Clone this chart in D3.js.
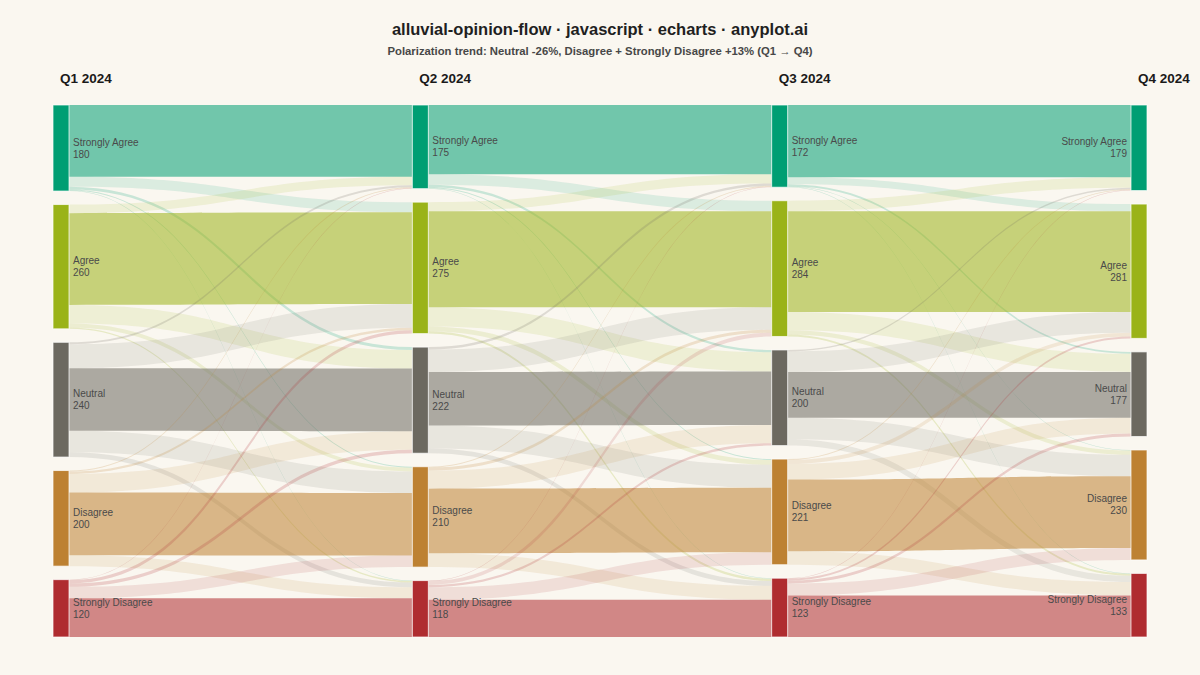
<!DOCTYPE html>
<html>
<head>
<meta charset="utf-8">
<script src="https://cdn.jsdelivr.net/npm/d3@7"></script>
<style>
  html, body { margin: 0; padding: 0; background: #FAF7F0; }
  svg { display: block; }
</style>
</head>
<body>
<div id="chart"></div>
<script>
// ---------------- data ----------------
const quarters = ["Q1 2024", "Q2 2024", "Q3 2024", "Q4 2024"];
const opinions = ["Strongly Agree", "Agree", "Neutral", "Disagree", "Strongly Disagree"];
const nodeColors = ["#009E73", "#9AB318", "#6C6960", "#BD8132", "#AF2C30"];

// rows = source opinion, columns = target opinion
const flowsQ1Q2 = [
  [150, 21, 6, 2, 1],
  [18, 192, 39, 8, 3],
  [4, 50, 131, 45, 10],
  [2, 5, 39, 131, 23],
  [1, 7, 7, 24, 81]
];
const flowsQ2Q3 = [
  [145, 22, 5, 2, 1],
  [19, 201, 40, 10, 5],
  [5, 47, 112, 48, 10],
  [2, 6, 38, 135, 29],
  [1, 8, 5, 26, 78]
];
const flowsQ3Q4 = [
  [151, 15, 4, 1, 1],
  [22, 211, 38, 9, 4],
  [3, 43, 96, 45, 13],
  [2, 8, 33, 150, 28],
  [1, 4, 6, 25, 87]
];
const titleText = "alluvial-opinion-flow · javascript · echarts · anyplot.ai";
const subtitleText = "Polarization trend: Neutral -26%, Disagree + Strongly Disagree +13% (Q1 → Q4)";

// ---------------- layout ----------------
const W = 1200, H = 675;
const nodeW = 16, nodeGap = 13.5;
const topY = 105, bottomY = 637;
const transitions = [flowsQ1Q2, flowsQ2Q3, flowsQ3Q4];

const colValues = quarters.map((q, c) => {
  if (c < transitions.length) return transitions[c].map(r => d3.sum(r));
  const m = transitions[c - 1];
  return opinions.map((o, j) => d3.sum(m, r => r[j]));
});
const colTotal = d3.max(colValues, v => d3.sum(v));

const x = d3.scalePoint().domain(quarters).range([53, 1131]);
const ky = d3.scaleLinear().domain([0, colTotal])
  .range([0, (bottomY - topY) - (opinions.length - 1) * nodeGap]);

const nodes = [];
quarters.forEach((q, c) => {
  let y = topY;
  opinions.forEach((o, i) => {
    const v = colValues[c][i];
    const h = ky(v);
    nodes.push({ col: c, idx: i, name: o, value: v, x: x(q), y0: y, y1: y + h, color: nodeColors[i] });
    y += h + nodeGap;
  });
});
const nodeAt = (c, i) => nodes.find(n => n.col === c && n.idx === i);

const links = [];
transitions.forEach((m, c) => {
  const outOff = opinions.map((o, i) => nodeAt(c, i).y0);
  const inOff = opinions.map((o, j) => nodeAt(c + 1, j).y0);
  const tmp = [];
  m.forEach((row, i) => row.forEach((v, j) => tmp.push({ c, i, j, v })));
  tmp.sort((a, b) => a.i - b.i || a.j - b.j).forEach(l => { l.sy = outOff[l.i]; outOff[l.i] += ky(l.v); });
  tmp.sort((a, b) => a.j - b.j || a.i - b.i).forEach(l => { l.ty = inOff[l.j]; inOff[l.j] += ky(l.v); });
  tmp.sort((a, b) => a.i - b.i || a.j - b.j);
  tmp.forEach(l => links.push(l));
});

// ---------------- draw ----------------
const svg = d3.select("#chart").append("svg").attr("width", W).attr("height", H);
svg.append("rect").attr("width", W).attr("height", H).attr("fill", "#FAF7F0");

const font = "'Liberation Sans', Arial, Helvetica, sans-serif";

svg.append("text").attr("x", W / 2).attr("y", 35).attr("text-anchor", "middle")
  .attr("font-family", font).attr("font-size", 16.5).attr("font-weight", "bold")
  .attr("fill", "#1f1f1f").text(titleText);
svg.append("text").attr("x", W / 2).attr("y", 55).attr("text-anchor", "middle")
  .attr("font-family", font).attr("font-size", 11.3).attr("font-weight", "bold")
  .attr("fill", "#474747").text(subtitleText);

svg.selectAll("text.hdr").data(quarters).join("text").attr("class", "hdr")
  .attr("x", q => x(q) + nodeW / 2 - 1).attr("y", 83)
  .attr("font-family", font).attr("font-size", 13.5).attr("font-weight", "bold")
  .attr("fill", "#1a1a1a").text(q => q);

function linkPath(l) {
  const x0 = x(quarters[l.c]) + nodeW, x1 = x(quarters[l.c + 1]);
  const xm = (x0 + x1) / 2, w = ky(l.v);
  return `M${x0},${l.sy}C${xm},${l.sy} ${xm},${l.ty} ${x1},${l.ty}` +
         `L${x1},${l.ty + w}C${xm},${l.ty + w} ${xm},${l.sy + w} ${x0},${l.sy + w}Z`;
}

svg.append("g").selectAll("path").data(links).join("path")
  .attr("d", linkPath)
  .attr("fill", l => nodeColors[l.i])
  .attr("fill-opacity", l => l.i === l.j ? 0.55 : (l.v >= 12 ? 0.12 : (l.v >= 8 ? 0.14 : 0.2)));

svg.append("g").selectAll("rect").data(nodes).join("rect")
  .attr("x", n => n.x).attr("y", n => n.y0)
  .attr("width", nodeW).attr("height", n => n.y1 - n.y0)
  .attr("fill", n => n.color)
  .attr("stroke", "#ffffff").attr("stroke-opacity", 0.7).attr("stroke-width", 1);

const lab = svg.append("g").selectAll("text").data(nodes).join("text")
  .attr("font-family", font).attr("font-size", 10).attr("fill", "#4a4a4a")
  .attr("text-anchor", n => n.col === quarters.length - 1 ? "end" : "start");
lab.each(function (n) {
  const t = d3.select(this);
  const lx = n.col === quarters.length - 1 ? n.x - 4 : n.x + nodeW + 4;
  const cy = (n.y0 + n.y1) / 2;
  t.append("tspan").attr("x", lx).attr("y", cy - 6).attr("dominant-baseline", "central").text(n.name);
  t.append("tspan").attr("x", lx).attr("y", cy + 6).attr("dominant-baseline", "central").text(n.value);
});
</script>
</body>
</html>
